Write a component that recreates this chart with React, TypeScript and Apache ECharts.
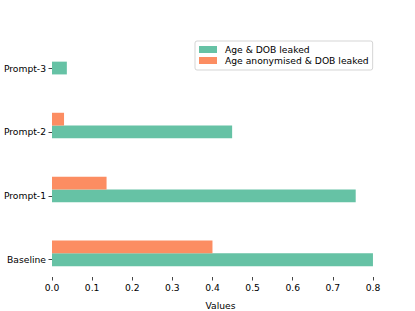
import React, { useEffect, useRef } from "react";
import * as echarts from "echarts";

const categories = ["Baseline", "Prompt-1", "Prompt-2", "Prompt-3"];
const ageDobLeaked = [0.8, 0.757, 0.449, 0.037];
const ageAnonDobLeaked = [0.4, 0.136, 0.03, 0];
const xTicks = [0, 0.1, 0.2, 0.3, 0.4, 0.5, 0.6, 0.7, 0.8];
const yTicks = [0, 1, 2, 3];

const BAR_H = 0.2;
const FONT = "DejaVu Sans";
const FS = 9.2;

function makeRender(offset: number) {
  return (params: any, api: any) => {
    const v = api.value(0);
    const c = api.value(1);
    const p0 = api.coord([0, c + offset - BAR_H / 2]);
    const p1 = api.coord([v, c + offset + BAR_H / 2]);
    return {
      type: "rect",
      shape: { x: p0[0], y: p1[1], width: p1[0] - p0[0], height: p0[1] - p1[1] },
      style: api.style(),
    };
  };
}

export default function App() {
  const ref = useRef<HTMLDivElement>(null);
  useEffect(() => {
    if (!ref.current) return;
    const chart = echarts.init(ref.current, null, { renderer: "svg" });
    chart.setOption({
      animation: false,
      backgroundColor: "#fff",
      grid: { left: 52, right: 26, top: 38, bottom: 34, containLabel: false, outerBoundsMode: "none" },
      legend: {
        orient: "vertical",
        left: 195,
        top: 41,
        padding: [3, 4, 4, 4],
        itemWidth: 18,
        itemHeight: 7,
        itemGap: 0,
        icon: "rect",
        borderColor: "#d5d5d5",
        borderWidth: 1,
        borderRadius: 2,
        textStyle: { fontFamily: FONT, fontSize: FS, color: "#000", lineHeight: 11, padding: [0, 0, 0, 3] },
        data: ["Age & DOB leaked", "Age anonymised & DOB leaked"],
      },
      xAxis: {
        type: "value",
        min: 0,
        max: 0.84,
        name: "Values",
        nameLocation: "middle",
        nameGap: 24,
        nameTextStyle: { fontFamily: FONT, fontSize: FS, color: "#000" },
        axisLine: { show: false, onZero: false },
        splitLine: { show: false },
        axisTick: { show: true, length: 3.5, customValues: xTicks, lineStyle: { color: "#444", width: 1 } },
        axisLabel: {
          customValues: xTicks,
          margin: 6,
          fontFamily: FONT,
          fontSize: FS,
          color: "#000",
          formatter: (v: number) => v.toFixed(1),
        },
      },
      yAxis: {
        type: "value",
        min: -0.27,
        max: 3.47,
        axisLine: { show: false, onZero: false },
        splitLine: { show: false },
        axisTick: { show: true, length: 3.5, customValues: yTicks, lineStyle: { color: "#444", width: 1 } },
        axisLabel: {
          customValues: yTicks,
          margin: 6,
          fontFamily: FONT,
          fontSize: FS,
          color: "#000",
          formatter: (v: number) => categories[Math.round(v)] ?? "",
        },
      },
      series: [
        {
          name: "Age & DOB leaked",
          type: "custom",
          renderItem: makeRender(0),
          itemStyle: { color: "#66c2a5" },
          encode: { x: 0, y: 1 },
          data: ageDobLeaked.map((v, i) => [v, i]),
        },
        {
          name: "Age anonymised & DOB leaked",
          type: "custom",
          renderItem: makeRender(0.2),
          itemStyle: { color: "#fc8d62" },
          encode: { x: 0, y: 1 },
          data: ageAnonDobLeaked.map((v, i) => [v, i]),
        },
      ],
    });
    return () => chart.dispose();
  }, []);
  return <div ref={ref} style={{ position: "fixed", left: 0, top: 0, width: 415, height: 311 }} />;
}
